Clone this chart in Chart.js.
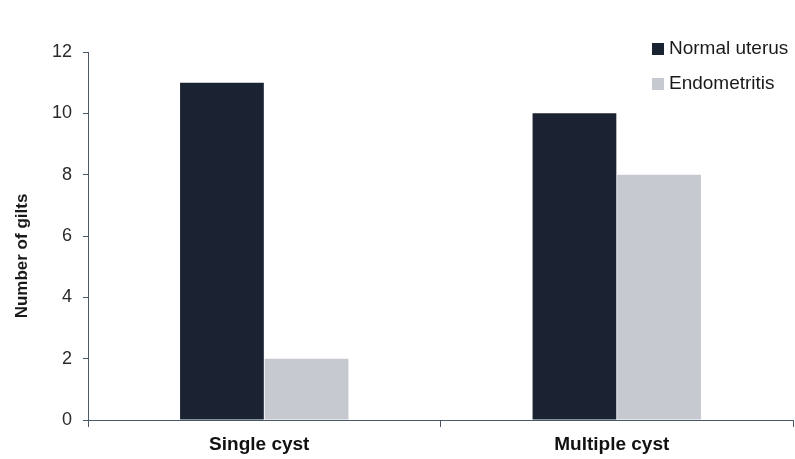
<!DOCTYPE html>
<html>
<head>
<meta charset="utf-8">
<script src="https://cdn.jsdelivr.net/npm/chart.js@4.4.1/dist/chart.umd.min.js"></script>
<style>
  html, body { margin: 0; padding: 0; background: #fff; }
  #wrap { width: 795px; height: 459px; position: relative; }
</style>
</head>
<body>
<div id="wrap"><canvas id="myChart"></canvas></div>
<script>
const categories = ['Single cyst', 'Multiple cyst'];
const seriesNames = ['Normal uterus', 'Endometritis'];
const normalUterus = [11, 10];
const endometritis = [2, 8];
const yTitle = 'Number of gilts';
const barColors = ['#1b2231', '#c6c9cf'];

const FONT = '"Liberation Sans", Arial, sans-serif';

// legend in the top right corner, stacked, plus the y title set a bit low like the original
const extras = {
    id: 'extras',
    afterDraw(chart) {
        const ctx = chart.ctx;
        ctx.save();
        ctx.font = '19px ' + FONT;
        ctx.textBaseline = 'middle';
        chart.data.datasets.forEach((ds, i) => {
            const y = 49 + i * 35;
            ctx.fillStyle = ds.backgroundColor;
            ctx.fillRect(652, y - 6, 12, 12);
            ctx.fillStyle = '#1a1a1a';
            ctx.fillText(ds.label, 669, y);
        });

        ctx.translate(22, 256);
        ctx.rotate(-Math.PI / 2);
        ctx.textAlign = 'center';
        ctx.font = 'bold 17px ' + FONT;
        ctx.fillStyle = '#1a1a1a';
        ctx.fillText(yTitle, 0, 0);
        ctx.restore();
    }
};

const ctx = document.getElementById('myChart');
new Chart(ctx, {
    type: 'bar',
    data: {
        labels: categories,
        datasets: [
            { label: seriesNames[0], data: normalUterus, backgroundColor: barColors[0] },
            { label: seriesNames[1], data: endometritis, backgroundColor: barColors[1] }
        ]
    },
    options: {
        responsive: true,
        maintainAspectRatio: false,
        animation: false,
        layout: { padding: { top: 52, right: 2, left: 0, bottom: 0 } },
        datasets: { bar: { categoryPercentage: 0.48, barPercentage: 0.99 } },
        plugins: {
            legend: { display: false },
            tooltip: { enabled: false }
        },
        scales: {
            x: {
                afterFit(scale) { scale.height = 39; },
                border: { color: '#4a5868', width: 1 },
                grid: { offset: true, drawOnChartArea: false, tickLength: 7, color: '#4a5868' },
                ticks: {
                    color: '#111',
                    padding: 6,
                    labelOffset: -5,
                    font: { family: FONT, size: 19, weight: 'bold' }
                }
            },
            y: {
                min: 0,
                max: 12,
                afterFit(scale) { scale.width = 88; },
                border: { color: '#4a5868', width: 1 },
                grid: { drawOnChartArea: false, tickLength: 5, color: '#4a5868' },
                ticks: {
                    stepSize: 2,
                    color: '#2a2a2a',
                    padding: 11,
                    font: { family: FONT, size: 18 }
                }
            }
        }
    },
    plugins: [extras]
});
</script>
</body>
</html>
